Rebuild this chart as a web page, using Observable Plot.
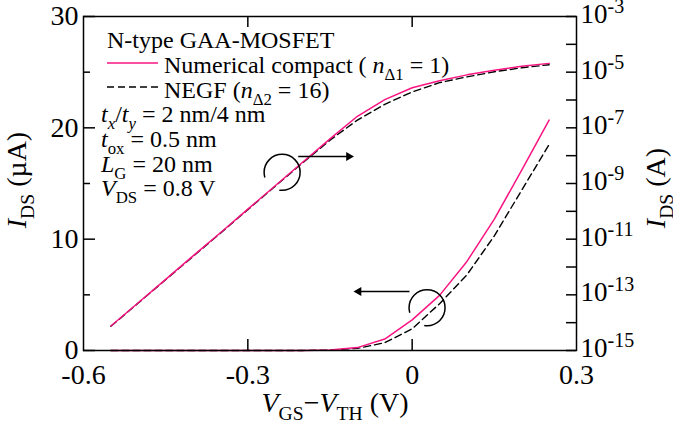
<!DOCTYPE html>
<html><head><meta charset="utf-8">
<script src="https://cdn.jsdelivr.net/npm/d3@7"></script>
<script src="https://cdn.jsdelivr.net/npm/@observablehq/plot@0.6"></script>
<style>
body{margin:0;background:#fff}
svg text{white-space:pre}
</style>
</head><body><div id="chart"></div>
<script>
// ---- data ----
const vgs = [-0.55,-0.5,-0.45,-0.4,-0.35,-0.3,-0.25,-0.2,-0.15,-0.1,-0.05,0,0.05,0.1,0.15,0.2,0.25];
// I_DS in amperes
const compactA = [7.6e-15,5.2e-14,3.6e-13,2.5e-12,1.7e-11,1.2e-10,8.3e-10,5.8e-9,4.0e-8,2.6e-7,1.03e-6,2.75e-6,4.95e-6,8.0e-6,11.8e-6,16.2e-6,20.7e-6];
const negfA    = [7.4e-15,5.1e-14,3.5e-13,2.4e-12,1.65e-11,1.15e-10,8.0e-10,5.5e-9,3.6e-8,1.9e-7,0.7e-6,1.95e-6,4.2e-6,6.8e-6,10.3e-6,14.4e-6,18.5e-6];

const xTickLabels = [-0.6,-0.3,0,0.3];
const xInnerTicks = [-0.3,0];
const leftMajor = [0,10,20,30];
const leftMinor = [5,15,25];
const rightExps = [-15,-14,-13,-12,-11,-10,-9,-8,-7,-6,-5,-4,-3];
const rightLabelExps = [-15,-13,-11,-9,-7,-5,-3];
const logMin = -15, logMax = -3, linMax = 30;

// annotations (data coordinates: V, µA)
const circles = [{x:-0.2374, y:16.0},{x:0.0272, y:3.84}];
const arrowLinks = [{x1:-0.208,x2:-0.1157,y:17.43},{x1:-0.0049,x2:-0.0976,y:5.3}];
const arrowHeads = [{x:-0.1157,y:17.43,rot:90},{x:-0.0976,y:5.3,rot:-90}];

const PINK = "#fa1482";
const toLeft = e => (e - logMin) * linMax / (logMax - logMin);
const rows = vgs.map((v,i)=>({v, c:compactA[i], n:negfA[i]}));

const W=673,H=428,mL=83,mR=97,mT=16,mB=78;
const fw = W-mL-mR, fh = H-mT-mB;

const plot = Plot.plot({
  width: W, height: H, marginLeft: mL, marginRight: mR, marginTop: mT, marginBottom: mB,
  style: {fontFamily: "'Liberation Serif','Times New Roman',serif", fontSize: "27px", color: "black", background: "white", overflow: "visible"},
  x: {domain: [-0.6, 0.3], axis: null},
  y: {domain: [0, linMax], axis: null},
  marks: [
    // linear curves (left axis)
    Plot.line(rows, {x: "v", y: d => d.n*1e6, stroke: "black", strokeWidth: 1.4, strokeDasharray: "7,4"}),
    Plot.line(rows, {x: "v", y: d => d.c*1e6, stroke: PINK, strokeWidth: 1.5}),
    // log curves (right axis)
    Plot.line(rows, {x: "v", y: d => toLeft(Math.log10(d.n)), stroke: "black", strokeWidth: 1.4, strokeDasharray: "7,4"}),
    Plot.line(rows, {x: "v", y: d => toLeft(Math.log10(d.c)), stroke: PINK, strokeWidth: 1.5}),
    // ticks (inward)
    Plot.tickY(leftMajor, {y: d=>d, insetRight: fw-12, stroke: "black", strokeWidth: 1.5}),
    Plot.tickY(leftMinor, {y: d=>d, insetRight: fw-7, stroke: "black", strokeWidth: 1.5}),
    Plot.tickY(rightExps, {y: d=>toLeft(d), insetLeft: fw-10, stroke: "black", strokeWidth: 1.5}),
    Plot.tickX(xInnerTicks, {x: d=>d, insetTop: fh-11, stroke: "black", strokeWidth: 1.5}),
    Plot.tickX(xInnerTicks, {x: d=>d, insetBottom: fh-11, stroke: "black", strokeWidth: 1.5}),
    Plot.frame({stroke: "black", strokeWidth: 1.5}),
    // tick labels
    Plot.text(leftMajor, {y: d=>d, text: d=>String(d), frameAnchor: "left", textAnchor: "end", dx: -5, fontSize: 28, fill: "black"}),
    Plot.text(xTickLabels, {x: d=>d, text: d=>String(d), frameAnchor: "bottom", lineAnchor: "top", dy: 14, fontSize: 28, fill: "black"}),
    Plot.text(rightLabelExps, {y: d=>toLeft(d), text: ()=>"10", frameAnchor: "right", textAnchor: "start", dx: 4, dy: -2, fontSize: 27, fill: "black"}),
    Plot.text(rightLabelExps, {y: d=>toLeft(d), text: d=>String(d), frameAnchor: "right", textAnchor: "start", dx: 31, dy: -10, fontSize: 20, fill: "black"}),
    // annotations
    Plot.dot(circles, {x: "x", y: "y", r: 18, stroke: "black", strokeWidth: 1.5, fill: "none", strokeDasharray: "31,20,70"}),
    Plot.link(arrowLinks, {x1: "x1", x2: "x2", y1: "y", y2: "y", stroke: "black", strokeWidth: 1.5}),
    Plot.dot(arrowHeads, {x: "x", y: "y", r: 4.3, symbol: "triangle2", rotate: "rot", fill: "black", stroke: "none"})
  ]
});
document.getElementById("chart").append(plot);

// ---- rich text (italics / subscripts) ----
const svg = d3.select(plot);
const g = svg.append("g").attr("font-family","'Liberation Serif','Times New Roman',serif").attr("fill","black").attr("text-anchor","start");
function rich(x, y, parts, fs, opts = {}) {
  const t = g.append("text").attr("x", x).attr("y", y).attr("font-size", fs).attr("text-anchor", opts.anchor || "start");
  if (opts.transform) t.attr("transform", opts.transform);
  let shift = 0;
  for (const p of parts) {
    const [s, kind] = typeof p === "string" ? [p, ""] : p;
    const isSub = kind.startsWith("sub");
    const target = isSub ? fs*0.3 : 0;
    const ts = t.append("tspan").text(s).attr("dy", target - shift);
    shift = target;
    if (isSub) ts.attr("font-size", fs*0.7);
    if (kind === "i" || kind === "subi") ts.attr("font-style", "italic");
  }
}
// legend block
const LF = 24;
rich(107, 48, ["N-type GAA-MOSFET"], LF);
g.append("line").attr("x1",107).attr("x2",158).attr("y1",63).attr("y2",63).attr("stroke",PINK).attr("stroke-width",1.5);
rich(164, 73, ["Numerical compact ( ", ["n","i"], ["Δ1","sub"], " = 1)"], LF);
g.append("line").attr("x1",107).attr("x2",158).attr("y1",87).attr("y2",87).attr("stroke","black").attr("stroke-width",1.4).attr("stroke-dasharray","7,4");
rich(164, 98, ["NEGF (", ["n","i"], ["Δ2","sub"], " = 16)"], LF);
rich(101, 122, [["t","i"], ["x","subi"], "/", ["t","i"], ["y","subi"], " = 2 nm/4 nm"], LF);
rich(101, 147, [["t","i"], ["ox","sub"], " = 0.5 nm"], LF);
rich(101, 172, [["L","i"], ["G","sub"], " = 20 nm"], LF);
rich(101, 196, [["V","i"], ["DS","sub"], " = 0.8 V"], LF);
// axis titles
rich(335, 412, [["V","i"], ["GS","sub"], "−", ["V","i"], ["TH","sub"], " (V)"], 28, {anchor: "middle"});
rich(0, 0, [["I","i"], ["DS","sub"], " (µA)"], 28, {anchor: "middle", transform: "translate(26,180) rotate(-90)"});
rich(0, 0, [["I","i"], ["DS","sub"], " (A)"], 28, {anchor: "middle", transform: "translate(665,188) rotate(-90)"});
</script>
</body></html>
